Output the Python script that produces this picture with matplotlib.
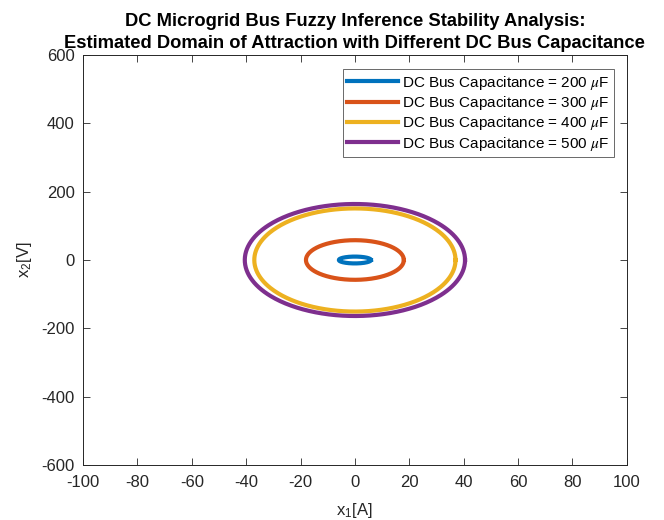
import numpy as np
import matplotlib
matplotlib.use("Agg")
import matplotlib.pyplot as plt

plt.rcParams['font.family'] = ['Liberation Sans', 'DejaVu Sans']
plt.rcParams['mathtext.fontset'] = 'stix'
plt.rcParams['axes.unicode_minus'] = False

capacitance = [200, 300, 400, 500]          # uF
x1_radius = [5.9, 18.0, 37.0, 40.5]         # A
x2_radius = [10.0, 58.0, 151.0, 164.0]      # V
colors = ['#0072BD', '#D95319', '#EDB120', '#7E2F8E']
xticks = list(range(-100, 101, 20))
yticks = list(range(-600, 601, 200))

fig = plt.figure(figsize=(6.64, 5.2), dpi=100)
ax = fig.add_axes([0.125, 0.106, 0.819, 0.788])

theta = np.linspace(0, 2 * np.pi, 400)
for c, rx, ry, col in zip(capacitance, x1_radius, x2_radius, colors):
    ax.plot(rx * np.cos(theta), ry * np.sin(theta), color=col, lw=3.0,
            label=f'DC Bus Capacitance = {c} $\\mu$F')

ax.set_xlim(-100, 100)
ax.set_ylim(-600, 600)
ax.set_xticks(xticks)
ax.set_yticks(yticks)
ax.tick_params(direction='in', top=True, right=True, length=5, width=0.6,
               labelsize=12, colors='#262626')
ax.tick_params(axis='x', pad=7)
ax.tick_params(axis='y', pad=6)
for s in ax.spines.values():
    s.set_linewidth(0.7)
    s.set_color('#262626')

ax.set_xlabel('x$_\\mathregular{1}$[A]', fontsize=12, color='#262626', labelpad=8)
ax.set_ylabel('x$_\\mathregular{2}$[V]', fontsize=12, color='#262626', labelpad=5)
ax.set_title('DC Microgrid Bus Fuzzy Inference Stability Analysis:\n'
             'Estimated Domain of Attraction with Different DC Bus Capacitance',
             fontsize=13.2, fontweight='bold', color='black', pad=5, linespacing=1.4)

leg = ax.legend(loc='upper right', bbox_to_anchor=(0.977, 0.966), fontsize=11,
                frameon=True, fancybox=False, handlelength=3.3, handletextpad=0.3,
                borderpad=0.3, labelspacing=0.15, borderaxespad=0.0)
leg.get_frame().set_edgecolor('#262626')
leg.get_frame().set_linewidth(0.6)

fig.savefig('out.png', dpi=100)
